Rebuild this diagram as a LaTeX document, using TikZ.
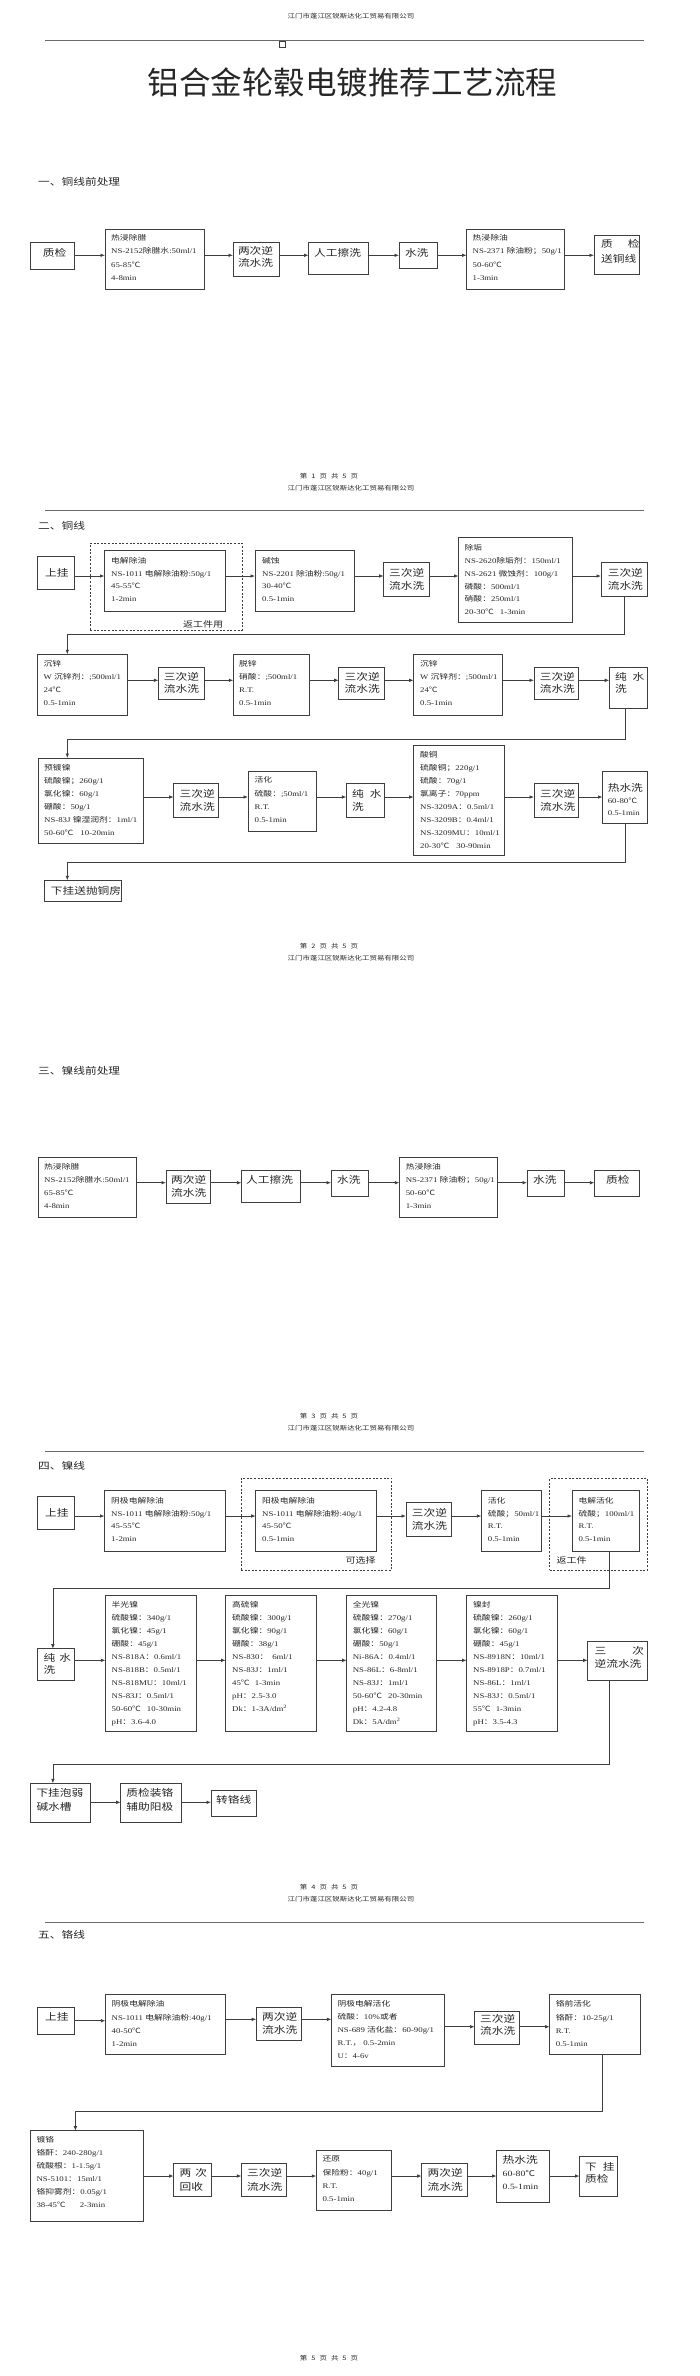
\documentclass[tikz,border=0pt]{standalone}
\usepackage{fontspec}
\setmainfont{Liberation Serif}[FakeStretch=1.22]
\newfontfamily\cjkfont{Noto Sans CJK SC}[FakeStretch=1.22]
\newfontfamily\titlefont{Noto Sans CJK SC}
\usetikzlibrary{arrows.meta}
\newcommand\zh[1]{{\cjkfont #1}}
\definecolor{ink}{HTML}{262626}
\definecolor{edge}{HTML}{3E3E3E}
\definecolor{rulec}{HTML}{6A6A6A}
\tikzset{
 pbox/.style={draw=edge,line width=0.9pt,inner sep=0pt,outer sep=0pt,fill=white},
 dashbox/.style={draw=edge,line width=0.8pt,dash pattern=on 2pt off 1.6pt,inner sep=0pt,outer sep=0pt},
 dtxt/.style={anchor=base west,inner sep=0pt,text=ink,font=\fontsize{7.2}{9}\selectfont},
 dtxtb/.style={anchor=base west,inner sep=0pt,text=ink,font=\fontsize{8}{9}\selectfont},
 ltxt/.style={anchor=base west,inner sep=0pt,text=ink,font=\fontsize{9.6}{12}\cjkfont},
 notetxt/.style={anchor=base west,inner sep=0pt,text=ink,font=\fontsize{8.2}{10}\cjkfont},
 sectxt/.style={anchor=base west,inner sep=0pt,text=ink,font=\fontsize{9.6}{12}\cjkfont},
 smalltxt/.style={anchor=base,inner sep=0pt,text=ink,font=\fontsize{6.1}{8}\cjkfont},
 arr/.style={draw=edge,line width=0.8pt,-{Latex[length=4.5pt,width=3.6pt]}},
 rulel/.style={draw=rulec,line width=1.2pt},
}
\newcommand\bx[5]{\node[pbox,minimum width={(#4-#2)*1pt},minimum height={(#5-#3)*1pt},anchor=north west] (#1) at (#2,#3) {};}
\newcommand\dbx[5]{\node[dashbox,minimum width={(#4-#2)*1pt},minimum height={(#5-#3)*1pt},anchor=north west] (#1) at (#2,#3) {};}
\newcommand\dtl[5]{\foreach \lin [count=\idx] in {#5} {\node[dtxt] (#1-\idx) at (#2,{#3+(\idx-1)*#4+2.6}) {\lin};}}
\newcommand\dtlb[5]{\foreach \lin [count=\idx] in {#5} {\node[dtxtb] (#1-\idx) at (#2,{#3+(\idx-1)*#4+2.9}) {\lin};}}
\newcommand\lbl[5]{\foreach \lin [count=\idx] in {#5} {\node[ltxt] (#1-\idx) at (#2,{#3+(\idx-1)*#4+3.5}) {\lin};}}
\newcommand\ar[3]{\draw[arr] (#1.east |- 0,#3) -- (#2.west |- 0,#3);}
\newcommand\ftr[1]{第\hspace{4pt}#1\hspace{4pt}页\hspace{4pt}共\hspace{4pt}5\hspace{4pt}页}
\newcommand\company{江门市蓬江区锐斯达化工贸易有限公司}
\begin{document}
\begin{tikzpicture}[x=1pt,y=-1pt]
\fill[white] (0,0) rectangle (700,2376);
\useasboundingbox (0,0) rectangle (700,2376);

% ---------- page 1 ----------
\node[smalltxt] (hdr1) at (351,19) {\company};
\draw[rulel] (45,40.7) -- (644,40.7);
\node[draw=edge,line width=0.6pt,minimum width=6pt,minimum height=5.5pt,inner sep=0pt,anchor=north] (sq) at (282,41.5) {};
\node[anchor=base,inner sep=0pt,text=ink,font=\fontsize{31.5}{34}\titlefont] (title) at (352.5,94.5) {铝合金轮毂电镀推荐工艺流程};
\node[sectxt] (sec1) at (38,185.3) {一、铜线前处理};

\bx{s1a}{30.5}{242.3}{74}{269}
\lbl{s1a}{42.6}{253.3}{12}{质检}
\bx{s1b}{105}{229.3}{204}{289.3}
\dtl{s1b}{111}{237.7}{13.5}{{\zh{热浸除腊}},{NS-2152\zh{除腊水}:50ml/1},{65-85\zh{℃}},{4-8min}}
\bx{s1c}{233}{242.3}{279.5}{276}
\lbl{s1c}{237.8}{251}{12.3}{两次逆,流水洗}
\bx{s1d}{308.6}{242.3}{368}{274}
\lbl{s1d}{314}{253.3}{12}{人工擦洗}
\bx{s1e}{399}{242.3}{437}{268.3}
\lbl{s1e}{405}{253.3}{12}{水洗}
\bx{s1f}{466.6}{229.3}{564}{289.3}
\dtl{s1f}{472.5}{237.7}{13.5}{{\zh{热浸除油}},{NS-2371 \zh{除油粉；}50g/1},{50-60\zh{℃}},{1-3min}}
\bx{s1g}{594}{235.7}{639}{274}
\lbl{s1g}{601}{244.3}{14.7}{{质\hspace{15pt}检},送铜线}
\ar{s1a}{s1b}{255.3}
\ar{s1b}{s1c}{255.3}
\ar{s1c}{s1d}{255.3}
\ar{s1d}{s1e}{255.3}
\ar{s1e}{s1f}{255.3}
\ar{s1f}{s1g}{255.3}

\node[smalltxt] (ft1) at (329,478) {\ftr{1}};

% ---------- page 2 ----------
\node[smalltxt] (hdr2) at (351,490.6) {\company};
\draw[rulel] (45,510.7) -- (644,510.7);
\node[sectxt] (sec2) at (38,529.3) {二、铜线};

\bx{a1}{37.2}{556.7}{74}{589}
\lbl{a1}{45}{573.3}{12}{上挂}
\dbx{a2d}{90}{543.3}{242}{630}
\bx{a2}{104.5}{550}{225.7}{611.7}
\dtl{a2}{111}{560.7}{12.8}{{\zh{电解除油}},{NS-1011 \zh{电解除油粉}:50g/1},{45-55\zh{℃}},{1-2min}}
\node[notetxt] (a2n) at (183,627.6) {返工件用};
\bx{a3}{255}{550}{354.4}{611.7}
\dtl{a3}{262}{560.7}{12.8}{{\zh{碱蚀}},{NS-2201 \zh{除油粉}:50g/1},{30-40\zh{℃}},{0.5-1min}}
\bx{a4}{383.6}{562.7}{429}{596}
\lbl{a4}{389}{573.3}{12.4}{三次逆,流水洗}
\bx{a5}{458.5}{537.3}{572}{622.3}
\dtl{a5}{464.5}{547.7}{12.9}{{\zh{除垢}},{NS-2620\zh{除垢剂：}150ml/1},{NS-2621 \zh{微蚀剂：}100g/1},{\zh{磷酸：}500ml/1},{\zh{硝酸：}250ml/1},{20-30\zh{℃}\hspace{6pt}1-3min}}
\bx{a6}{601}{562.7}{647.4}{596.7}
\lbl{a6}{607.6}{573.3}{12.4}{三次逆,流水洗}
\ar{a1}{a2}{576}
\ar{a2}{a3}{576}
\ar{a3}{a4}{576}
\ar{a4}{a5}{576}
\ar{a5}{a6}{576}

\bx{b1}{37.2}{654.3}{127.9}{715}
\dtl{b1}{43.5}{663.7}{13}{{\zh{沉锌}},{W \zh{沉锌剂：};500ml/1},{24\zh{℃}},{0.5-1min}}
\bx{b2}{158.4}{667.7}{204}{699.3}
\lbl{b2}{163.7}{676.7}{12.6}{三次逆,流水洗}
\bx{b3}{233.3}{654.3}{309.6}{715}
\dtl{b3}{239}{663.7}{13}{{\zh{脱锌}},{\zh{硝酸：};500ml/1},{R.T.},{0.5-1min}}
\bx{b4}{338.7}{667.7}{384.5}{699.3}
\lbl{b4}{344.4}{676.7}{12.6}{三次逆,流水洗}
\bx{b5}{413.6}{654.3}{502.5}{715}
\dtl{b5}{420}{663.7}{13}{{\zh{沉锌}},{W \zh{沉锌剂：};500ml/1},{24\zh{℃}},{0.5-1min}}
\bx{b6}{534}{667.7}{578.7}{699.3}
\lbl{b6}{539.6}{676.7}{12.6}{三次逆,流水洗}
\bx{b7}{609.2}{667.7}{647.4}{708.7}
\lbl{b7}{614.8}{676.7}{12.6}{{纯\hspace{6pt}水},洗}
\ar{b1}{b2}{680.3}
\ar{b2}{b3}{680.3}
\ar{b3}{b4}{680.3}
\ar{b4}{b5}{680.3}
\ar{b5}{b6}{680.3}
\ar{b6}{b7}{680.3}
\draw[arr] (a6.south) -- (a6.south |- 0,634) -- (67.3,634) -- (b1.north -| 67.3,0);

\bx{c1}{38.1}{758}{143.6}{843}
\dtl{c1}{44}{767.7}{13.06}{{\zh{预镀镍}},{\zh{硫酸镍；}260g/1},{\zh{氯化镍：}60g/1},{\zh{硼酸：}50g/1},{NS-83J \zh{镍湿润剂：}1ml/1},{50-60\zh{℃}\hspace{7pt}10-20min}}
\bx{c2}{173.6}{783.7}{218.5}{817}
\lbl{c2}{179.4}{793.7}{13.3}{三次逆,流水洗}
\bx{c3}{248}{771.3}{316.3}{831}
\dtl{c3}{254.5}{780.3}{13.3}{{\zh{活化}},{\zh{硫酸：};50ml/1},{R.T.},{0.5-1min}}
\bx{c4}{346.3}{783.7}{384.5}{817}
\lbl{c4}{352}{793.7}{13.3}{{纯\hspace{6pt}水},洗}
\bx{c5}{413.6}{745.3}{504.7}{855.3}
\dtl{c5}{420}{755.3}{12.96}{{\zh{酸铜}},{\zh{硫酸铜；}220g/1},{\zh{硫酸：}70g/1},{\zh{氯离子：}70ppm},{NS-3209A\zh{：}0.5ml/1},{NS-3209B\zh{：}0.4ml/1},{NS-3209MU\zh{：}10ml/1},{20-30\zh{℃}\hspace{7pt}30-90min}}
\bx{c6}{534}{783.7}{578.7}{817}
\lbl{c6}{540}{793.7}{13.3}{三次逆,流水洗}
\bx{c7}{602.5}{771.3}{647.4}{823.7}
\lbl{c7}{607.6}{787.7}{12}{热水洗}
\dtl{c7x}{607.6}{801}{12}{{60-80\zh{℃}},{0.5-1min}}
\ar{c1}{c2}{797}
\ar{c2}{c3}{797}
\ar{c3}{c4}{797}
\ar{c4}{c5}{797}
\ar{c5}{c6}{797}
\ar{c6}{c7}{797}
\draw[arr] (b7.south -| 625.8,0) -- (625.8,739.3) -- (67.3,739.3) -- (c1.north -| 67.3,0);

\bx{c8}{44.9}{880.3}{121.1}{901}
\lbl{c8}{50.7}{891}{12}{下挂送抛铜房}
\draw[arr] (c7.south -| 625,0) -- (625,862) -- (67.3,862) -- (c8.north -| 67.3,0);

\node[smalltxt] (ft2) at (329,948) {\ftr{2}};

% ---------- page 3 ----------
\node[smalltxt] (hdr3) at (351,960.6) {\company};
\node[sectxt] (sec3) at (38,1074.6) {三、镍线前处理};

\bx{d1}{38.1}{1157.3}{136}{1217.7}
\dtl{d1}{44}{1167.3}{12.9}{{\zh{热浸除腊}},{NS-2152\zh{除腊水}:50ml/1},{65-85\zh{℃}},{4-8min}}
\bx{d2}{166}{1170}{210.9}{1203.3}
\lbl{d2}{171}{1180}{13.3}{两次逆,流水洗}
\bx{d3}{241.4}{1170}{300.6}{1202.3}
\lbl{d3}{246}{1180}{12}{人工擦洗}
\bx{d4}{331}{1170}{368.8}{1196.7}
\lbl{d4}{337}{1180}{12}{水洗}
\bx{d5}{399.3}{1157.3}{497}{1217.7}
\dtl{d5}{405.6}{1167.3}{12.9}{{\zh{热浸除油}},{NS-2371 \zh{除油粉；}50g/1},{50-60\zh{℃}},{1-3min}}
\bx{d6}{527}{1170}{564.4}{1196.7}
\lbl{d6}{533}{1180}{12}{水洗}
\bx{d7}{594.4}{1170}{639.3}{1196.7}
\lbl{d7}{606}{1180}{12}{质检}
\ar{d1}{d2}{1182.7}
\ar{d2}{d3}{1182.7}
\ar{d3}{d4}{1182.7}
\ar{d4}{d5}{1182.7}
\ar{d5}{d6}{1182.7}
\ar{d6}{d7}{1182.7}

\node[smalltxt] (ft3) at (329,1418) {\ftr{3}};

% ---------- page 4 ----------
\node[smalltxt] (hdr4) at (351,1430.6) {\company};
\draw[rulel] (45,1451.7) -- (644,1451.7);
\node[sectxt] (sec4) at (38,1469.3) {四、镍线};

\bx{e1}{37.2}{1496.7}{74}{1529}
\lbl{e1}{45}{1513.3}{12}{上挂}
\bx{e2}{104.5}{1490}{225.7}{1551.7}
\dtl{e2}{111}{1500.7}{12.8}{{\zh{阴极电解除油}},{NS-1011 \zh{电解除油粉}:50g/1},{45-55\zh{℃}},{1-2min}}
\dbx{e3d}{241}{1478.3}{391.6}{1570}
\bx{e3}{255.7}{1490}{376}{1551.7}
\dtl{e3}{262}{1500.7}{12.8}{{\zh{阳极电解除油}},{NS-1011 \zh{电解除油粉}:40g/1},{45-50\zh{℃}},{0.5-1min}}
\node[notetxt] (e3n) at (345.4,1563.3) {可选择};
\bx{e4}{406}{1502.7}{451.8}{1536.7}
\lbl{e4}{411.7}{1513.3}{12.4}{三次逆,流水洗}
\bx{e5}{481.4}{1490}{541.5}{1551.7}
\dtl{e5}{487.7}{1500.7}{12.8}{{\zh{活化}},{\zh{硫酸；}50ml/1},{R.T.},{0.5-1min}}
\dbx{e6d}{549.6}{1478.3}{647.4}{1570}
\bx{e6}{572}{1490}{639.3}{1551.7}
\dtl{e6}{578.3}{1500.7}{12.8}{{\zh{电解活化}},{\zh{硫酸；}100ml/1},{R.T.},{0.5-1min}}
\node[notetxt] (e6n) at (556.3,1563.3) {返工件};
\ar{e1}{e2}{1516}
\ar{e2}{e3}{1516}
\ar{e3}{e4}{1516}
\ar{e4}{e5}{1516}
\ar{e5}{e6}{1516}

\bx{g1}{37.2}{1648.7}{74.9}{1680}
\lbl{g1}{43.5}{1657.7}{12.6}{{纯\hspace{4pt}水},洗}
\bx{g2}{105.4}{1595.3}{196.5}{1731.7}
\dtl{g2}{111.5}{1605.3}{12.93}{{\zh{半光镍}},{\zh{硫酸镍：}340g/1},{\zh{氯化镍：}45g/1},{\zh{硼酸：}45g/1},{NS-818A\zh{：}0.6ml/1},{NS-818B\zh{：}0.5ml/1},{NS-818MU\zh{：}10ml/1},{NS-83J\zh{：}0.5ml/1},{50-60\zh{℃}\hspace{6pt}10-30min},{pH\zh{：}3.6-4.0}}
\bx{g3}{225.7}{1595.3}{316.7}{1731.7}
\dtl{g3}{232}{1605.3}{12.93}{{\zh{高硫镍}},{\zh{硫酸镍：}300g/1},{\zh{氯化镍：}90g/1},{\zh{硼酸：}38g/1},{NS-830\zh{：}\hspace{4pt}6ml/1},{NS-83J\zh{：}1ml/1},{45\zh{℃}\hspace{5pt}1-3min},{pH\zh{：}2.5-3.0},{Dk\zh{：}1-3A/dm\textsuperscript{2}}}
\bx{g4}{346.7}{1595.3}{436.5}{1731.7}
\dtl{g4}{352.7}{1605.3}{12.93}{{\zh{全光镍}},{\zh{硫酸镍：}270g/1},{\zh{氯化镍：}60g/1},{\zh{硼酸：}50g/1},{Ni-86A\zh{：}0.4ml/1},{NS-86L\zh{：}6-8ml/1},{NS-83J\zh{：}1ml/1},{50-60\zh{℃}\hspace{6pt}20-30min},{pH\zh{：}4.2-4.8},{Dk\zh{：}5A/dm\textsuperscript{2}}}
\bx{g5}{466.6}{1595.3}{557.2}{1731.7}
\dtl{g5}{473}{1605.3}{12.93}{{\zh{镍封}},{\zh{硫酸镍：}260g/1},{\zh{氯化镍：}60g/1},{\zh{硼酸：}45g/1},{NS-8918N\zh{：}10ml/1},{NS-8918P\zh{：}0.7ml/1},{NS-86L\zh{：}1ml/1},{NS-83J\zh{：}0.5ml/1},{55\zh{℃}\hspace{5pt}1-3min},{pH\zh{：}3.5-4.3}}
\bx{g6}{587.7}{1641}{647.4}{1680}
\lbl{g6}{594.4}{1651}{13.3}{{三\hspace{26pt}次},逆流水洗}
\ar{g1}{g2}{1660.3}
\ar{g2}{g3}{1660.3}
\ar{g3}{g4}{1660.3}
\ar{g4}{g5}{1660.3}
\ar{g5}{g6}{1660.3}
\draw[arr] (e6.south -| 609.2,0) -- (609.2,1588.7) -- (52.9,1588.7) -- (g1.north -| 52.9,0);

\bx{k1}{30}{1783.3}{90.6}{1822.7}
\lbl{k1}{36.3}{1793.3}{13.4}{下挂泡弱,碱水槽}
\bx{k2}{120.6}{1783.3}{181}{1822.7}
\lbl{k2}{126.2}{1793.3}{13.4}{质检装铬,辅助阳极}
\bx{k3}{211}{1790}{256.2}{1816}
\lbl{k3}{216}{1800}{12}{转铬线}
\ar{k1}{k2}{1802.3}
\ar{k2}{k3}{1802.3}
\draw[arr] (g6.south -| 609.2,0) -- (609.2,1764) -- (52.9,1764) -- (k1.north -| 52.9,0);

\node[smalltxt] (ft4) at (329,1889) {\ftr{4}};

% ---------- page 5 ----------
\node[smalltxt] (hdr5) at (351,1901.6) {\company};
\draw[rulel] (45,1922.7) -- (644,1922.7);
\node[sectxt] (sec5) at (38,1938.6) {五、铬线};

\bx{m1}{37.2}{2007.3}{74}{2034}
\lbl{m1}{45}{2017.3}{12}{上挂}
\bx{m2}{105.4}{1994.3}{225.7}{2054}
\dtl{m2}{111.5}{2004.3}{13.23}{{\zh{阴极电解除油}},{NS-1011 \zh{电解除油粉}:40g/1},{40-50\zh{℃}},{1-2min}}
\bx{m3}{256.2}{2007.3}{301.5}{2040}
\lbl{m3}{262}{2017.3}{12.7}{两次逆,流水洗}
\bx{m4}{331.4}{1994.3}{444.3}{2066}
\dtl{m4}{337.4}{2004.3}{12.93}{{\zh{阴极电解活化}},{\zh{硫酸：}10\%\zh{或者}},{NS-689 \zh{活化盐：}60-90g/1},{R.T.\zh{，}\hspace{2pt}0.5-2min},{U\zh{：}4-6v}}
\bx{m5}{474.6}{2011.7}{519.5}{2044.3}
\lbl{m5}{480}{2018.5}{12.7}{三次逆,流水洗}
\bx{m6}{549.6}{1994.3}{640}{2054}
\dtl{m6}{555.6}{2004.3}{13.23}{{\zh{铬前活化}},{\zh{铬酐：}10-25g/1},{R.T.},{0.5-1min}}
\ar{m1}{m2}{2020.7}
\ar{m2}{m3}{2019.3}
\ar{m3}{m4}{2019.3}
\ar{m4}{m5}{2026.7}
\ar{m5}{m6}{2026.7}

\bx{p1}{30}{2130.7}{143.6}{2221.7}
\dtl{p1}{36.3}{2140}{13}{{\zh{镀铬}},{\zh{铬酐：}240-280g/1},{\zh{硫酸根：}1-1.5g/1},{NS-5101\zh{：}15ml/1},{\zh{铬抑雾剂：}0.05g/1},{38-45\zh{℃}\hspace{14pt}2-3min}}
\bx{p2}{173.6}{2163.3}{211}{2196}
\lbl{p2}{179.4}{2173.3}{13.4}{{两\hspace{4pt}次},回收}
\bx{p3}{241.4}{2163.3}{286}{2196}
\lbl{p3}{247}{2173.3}{13.4}{三次逆,流水洗}
\bx{p4}{316.3}{2150}{391.6}{2210}
\dtl{p4}{322.4}{2159.3}{13.23}{{\zh{还原}},{\zh{保险粉：}40g/1},{R.T.},{0.5-1min}}
\bx{p5}{421.6}{2163.3}{467}{2196}
\lbl{p5}{427.5}{2173.3}{13.4}{两次逆,流水洗}
\bx{p6}{496.6}{2150}{549.6}{2202.3}
\lbl{p6}{502.5}{2160}{13}{热水洗}
\dtlb{p6x}{502.5}{2173.3}{13.4}{{60-80\zh{℃}},{0.5-1min}}
\bx{p7}{579.5}{2156.7}{617}{2196}
\lbl{p7}{585}{2166.7}{12.6}{{下\hspace{6pt}挂},质检}
\ar{p1}{p2}{2176}
\ar{p2}{p3}{2176}
\ar{p3}{p4}{2176}
\ar{p4}{p5}{2176}
\ar{p5}{p6}{2176}
\ar{p6}{p7}{2176}
\draw[arr] (m6.south -| 602,0) -- (602,2111) -- (75.4,2111) -- (p1.north -| 75.4,0);

\node[smalltxt] (ft5) at (329,2360.6) {\ftr{5}};
\end{tikzpicture}
\end{document}
